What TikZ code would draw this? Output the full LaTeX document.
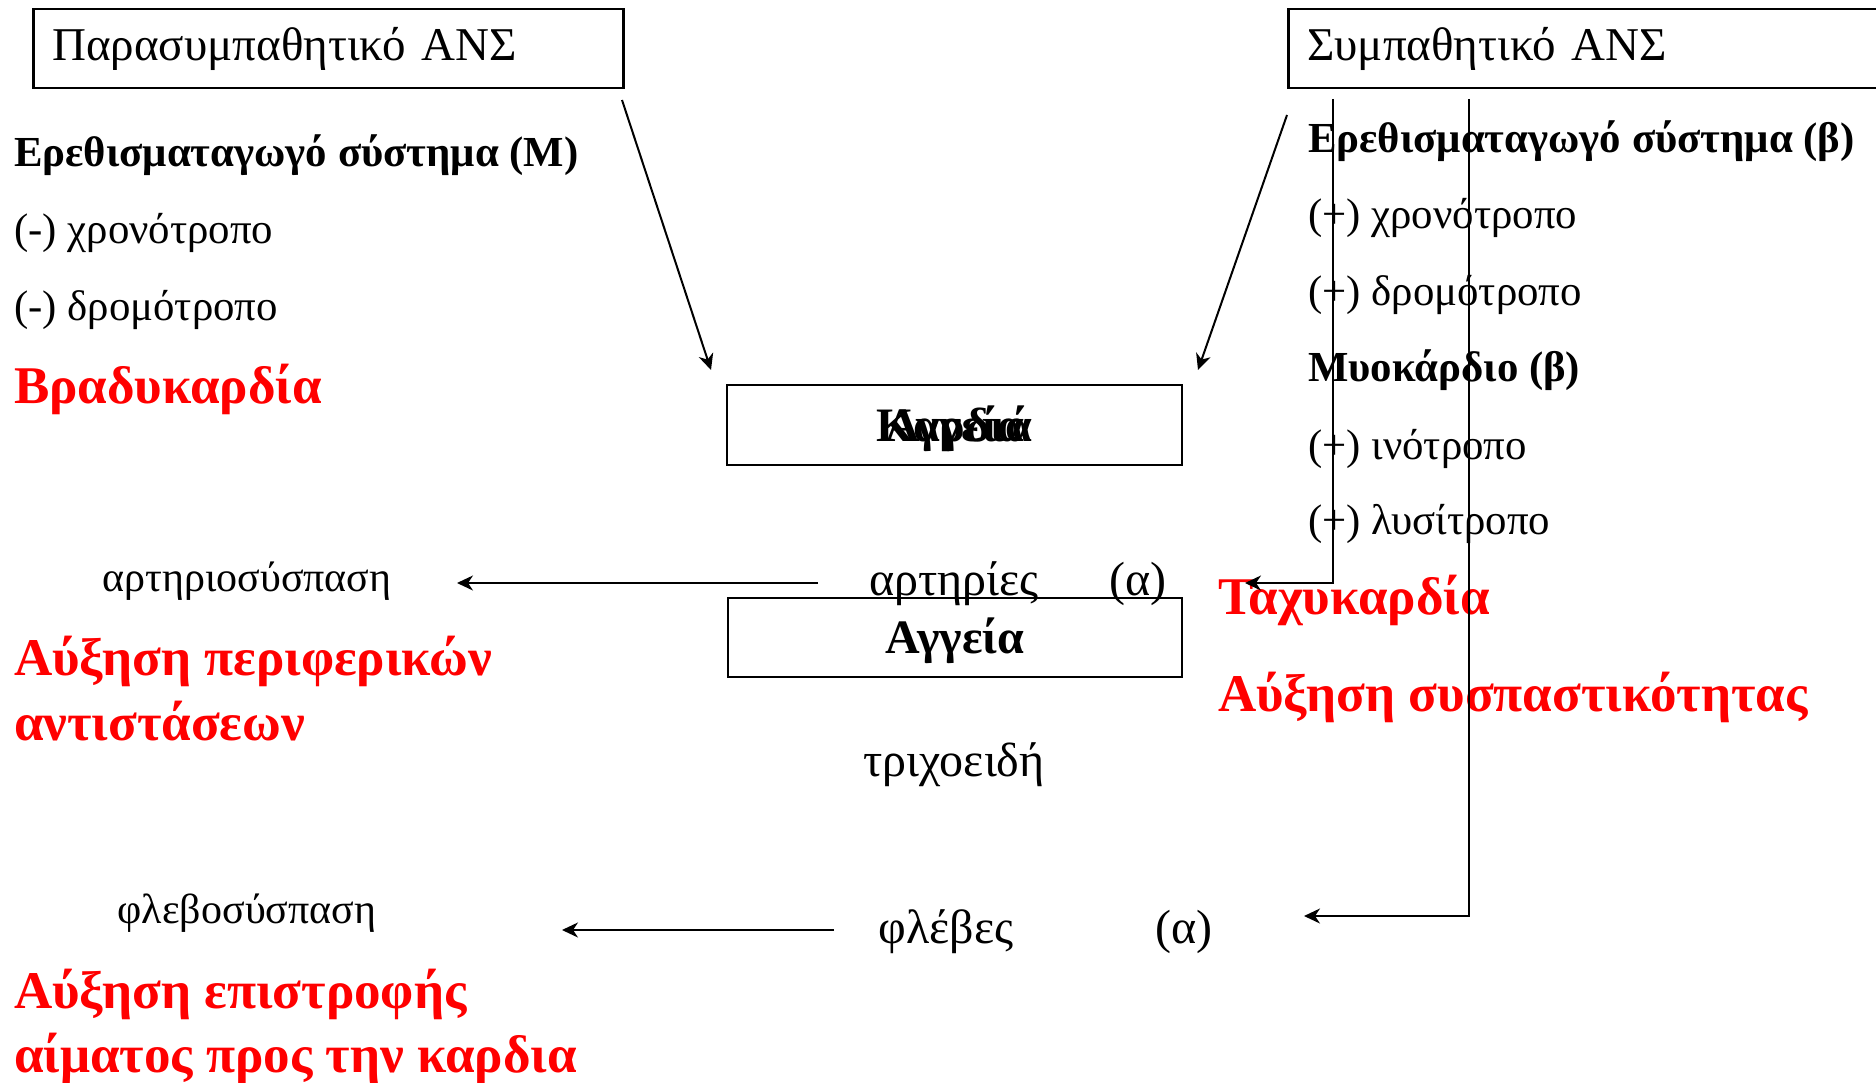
\documentclass[tikz,border=0pt]{standalone}
\usepackage{fontspec}
\setmainfont{Liberation Serif}
\usetikzlibrary{arrows.meta}
\definecolor{alertred}{RGB}{255,0,0}
\begin{document}
\begin{tikzpicture}[x=1pt,y=-1pt,
  lbl/.style={inner sep=0pt, text height=34pt, text depth=11pt, font=\fontsize{48}{58}\selectfont},
  lblb/.style={lbl, font=\fontsize{48}{58}\selectfont\bfseries},
  lst/.style={inner sep=0pt, text height=31pt, text depth=10pt, font=\fontsize{42.8}{52}\selectfont},
  lstb/.style={lst, font=\fontsize{42.8}{52}\selectfont\bfseries},
  small/.style={inner sep=0pt, text height=30pt, text depth=10pt, font=\fontsize{42}{50}\selectfont},
  warn/.style={inner sep=0pt, text height=37pt, text depth=11pt, text=alertred, font=\fontsize{53}{63}\selectfont\bfseries},
  box/.style={draw, line width=2.5pt, inner sep=0pt},
  conn/.style={line width=2pt, -{Stealth[length=16pt,width=15pt,inset=5pt]}}]
\useasboundingbox (0,0) rectangle (1876,1083);
\clip (0,0) rectangle (1876,1083);

% the two autonomic boxes
\node[box, minimum width=590pt, minimum height=79pt, anchor=north west,
      text width=552pt, align=left, inner xsep=19pt, font=\fontsize{47}{56}\selectfont]
  (para) at (32,8) {Παρασυμπαθητικό ΑΝΣ};
\node[box, minimum width=613pt, minimum height=79pt, anchor=north west,
      text width=575pt, align=left, inner xsep=19pt, font=\fontsize{47}{56}\selectfont]
  (symp) at (1287,8) {Συμπαθητικό ΑΝΣ};

% parasympathetic effects
\node[lstb, anchor=west] (pcond) at (14,156) {Ερεθισματαγωγό σύστημα (Μ)};
\node[lst, anchor=west] (pchr) at (14,233) {(-) χρονότροπο};
\node[lst, anchor=west] (pdro) at (14,310) {(-) δρομότροπο};
\node[warn, anchor=west] (brady) at (14,390) {Βραδυκαρδία};

% sympathetic effects
\node[lstb, anchor=west] (scond) at (1308,142) {Ερεθισματαγωγό σύστημα (β)};
\node[lst, anchor=west] (schr) at (1308,218) {(+) χρονότροπο};
\node[lst, anchor=west] (sdro) at (1308,295) {(+) δρομότροπο};
\node[lstb, anchor=west] (myo) at (1308,371) {Μυοκάρδιο (β)};
\node[lst, anchor=west] (sino) at (1308,449) {(+) ινότροπο};
\node[lst, anchor=west] (slus) at (1308,524) {(+) λυσίτροπο};
\node[warn, anchor=west] (tachy) at (1218,601) {Ταχυκαρδία};
\node[warn, anchor=west] (contr) at (1218,698) {Αύξηση συσπαστικότητας};

% heart and vessels
\node[box, minimum width=455pt, minimum height=80pt] (heart) at (954.5,425) {};
\node[lblb] (hlab) at (954.5,430) {Καρδιά};
\node[lblb] (hlab2) at (954.5,430) {Αγγεία};
\node[box, minimum width=454pt, minimum height=79pt] (vess) at (955,637.5) {};
\node[lblb] (vlab) at (955,642) {Αγγεία};

\node[lbl] (art) at (954,584) {αρτηρίες};
\node[lbl] (arta) at (1138,584) {(α)};
\node[lbl] (cap) at (954,765) {τριχοειδή};
\node[lbl] (vein) at (946,932) {φλέβες};
\node[lbl] (veina) at (1184,932) {(α)};

% vascular responses
\node[small] (artc) at (247,581) {αρτηριοσύσπαση};
\node[warn, anchor=west] (res1) at (14,662) {Αύξηση περιφερικών};
\node[warn, anchor=west] (res2) at (14,727) {αντιστάσεων};
\node[small] (veinc) at (247,913) {φλεβοσύσπαση};
\node[warn, anchor=west] (ret1) at (14,995) {Αύξηση επιστροφής};
\node[warn, anchor=west] (ret2) at (14,1059) {αίματος προς την καρδια};

% connector end points
\coordinate (ps) at (622,100);
\coordinate (pt) at (711,370);
\coordinate (ss) at (1287,115);
\coordinate (st) at (1198,370);
\coordinate (l1top) at (1333,99);
\coordinate (l1bot) at (1333,583);
\coordinate (l1tip) at (1245,583);
\coordinate (l2top) at (1469,99);
\coordinate (l2bot) at (1469,916);
\coordinate (l2tip) at (1304,916);
\coordinate (aS) at (818,583);
\coordinate (aT) at (457,583);
\coordinate (vS) at (834,930);
\coordinate (vT) at (562,930);

\draw[conn] (ps) -- (pt);
\draw[conn] (ss) -- (st);
\draw[conn] (l1top) -- (l1bot) -- (l1tip);
\draw[conn] (l2top) -- (l2bot) -- (l2tip);
\draw[conn] (aS) -- (aT);
\draw[conn] (vS) -- (vT);
\end{tikzpicture}
\end{document}
